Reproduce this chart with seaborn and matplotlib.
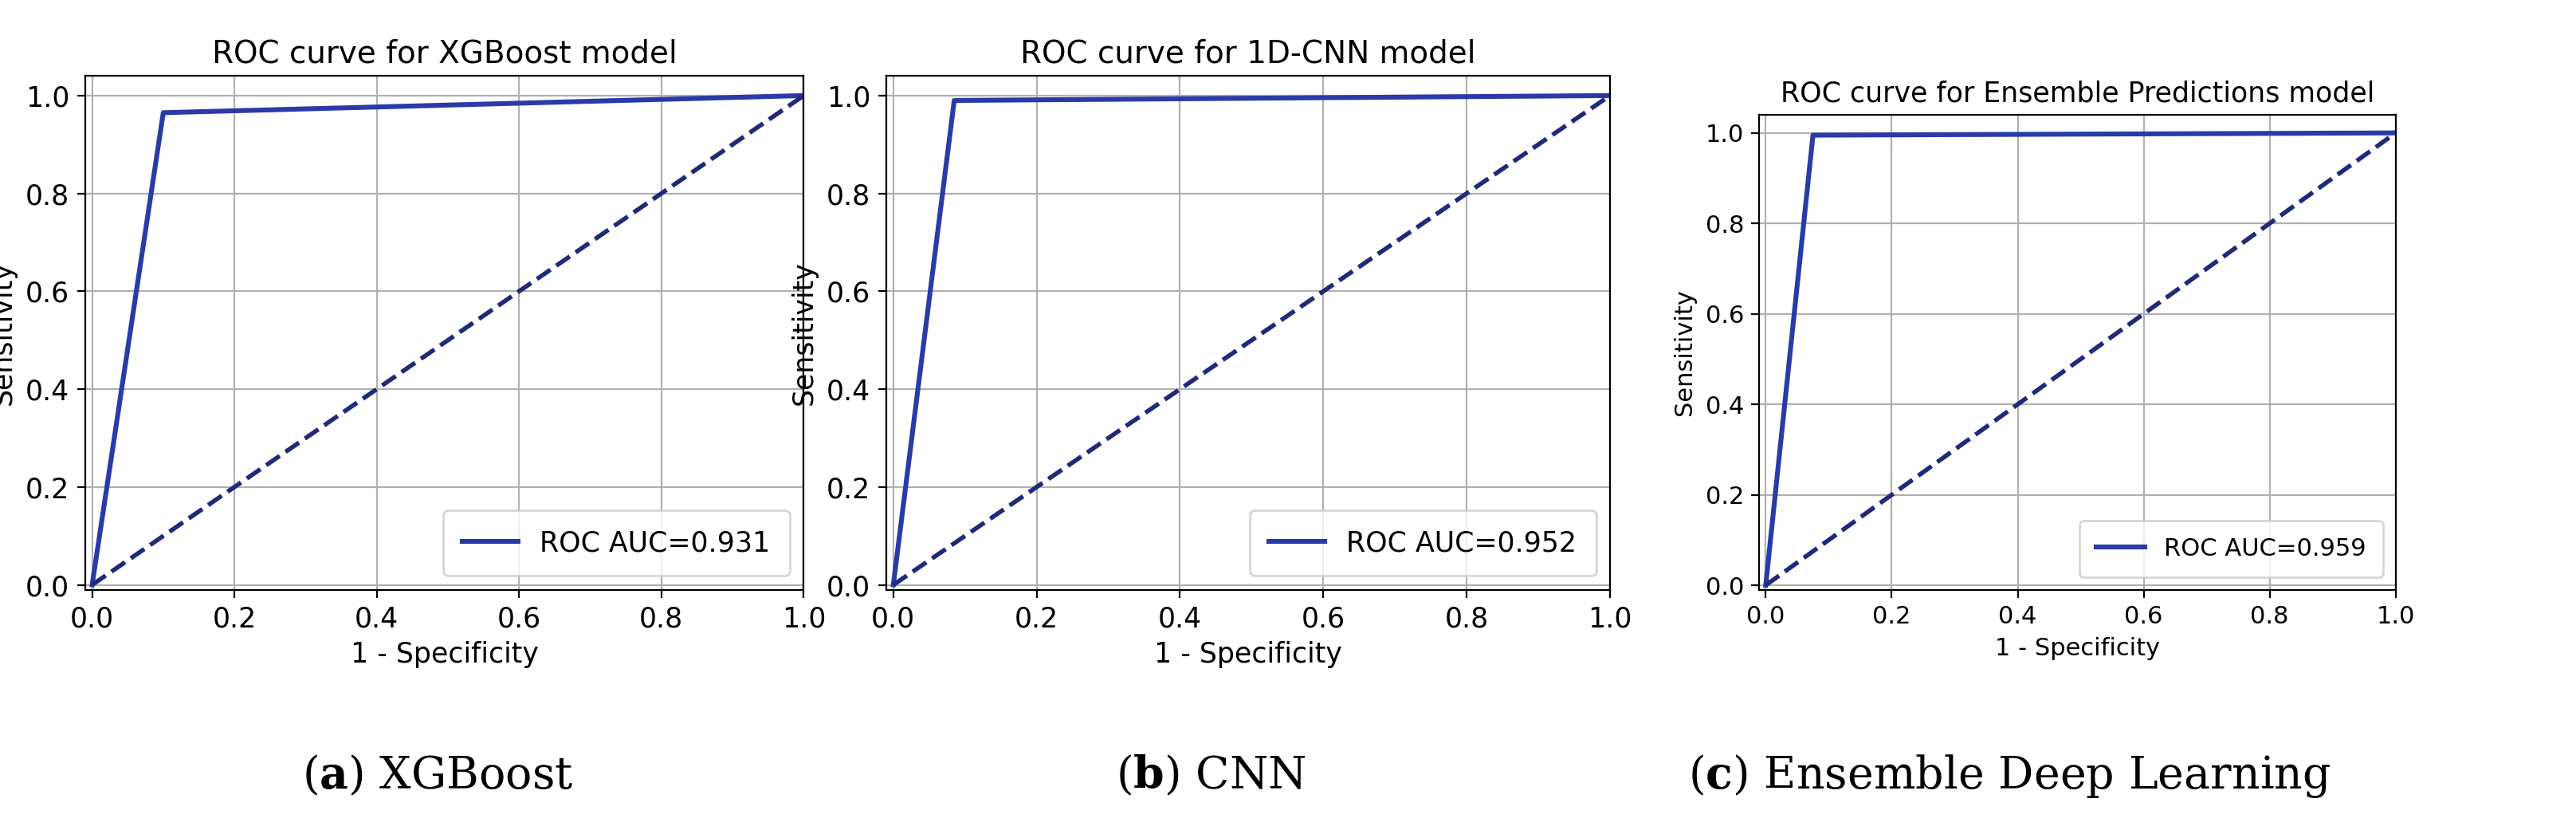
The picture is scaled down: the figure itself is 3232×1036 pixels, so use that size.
import matplotlib
matplotlib.use("Agg")
import matplotlib.pyplot as plt
import seaborn as sns
import pandas as pd

titles = ["ROC curve for XGBoost model", "ROC curve for 1D-CNN model",
          "ROC curve for Ensemble Predictions model"]
aucs = ["0.931", "0.952", "0.959"]
fpr = [[0.0, 0.10, 1.0], [0.0, 0.085, 1.0], [0.0, 0.075, 1.0]]
tpr = [[0.0, 0.965, 1.0], [0.0, 0.99, 1.0], [0.0, 0.995, 1.0]]
captions = [r"($\mathbf{a}$) XGBoost", r"($\mathbf{b}$) CNN", r"($\mathbf{c}$) Ensemble Deep Learning"]
ticks = [0.0, 0.2, 0.4, 0.6, 0.8, 1.0]

plt.rcParams["mathtext.fontset"] = "dejavuserif"
fig = plt.figure(figsize=(16.16, 5.18), dpi=200)
boxes = [[0.033, 0.286, 0.279, 0.622], [0.344, 0.286, 0.281, 0.622], [0.683, 0.286, 0.247, 0.575]]
cap_x = [0.17, 0.47, 0.78]
for i in range(3):
    ax = fig.add_axes(boxes[i])
    df = pd.DataFrame({"fpr": fpr[i], "tpr": tpr[i]})
    sns.lineplot(data=df, x="fpr", y="tpr", ax=ax, color="#2a3aa8", lw=2.2,
                 label=f"ROC AUC={aucs[i]}", estimator=None, sort=False)
    ax.plot([0, 1], [0, 1], ls="--", color="#1f2a78", lw=2)
    ax.set_xlim(-0.01, 1.0); ax.set_ylim(-0.01, 1.04)
    ax.set_xticks(ticks); ax.set_yticks(ticks)
    ax.grid(True, color="#b0b0b0", lw=0.8)
    fs = 14 if i < 2 else 12.5
    ax.set_title(titles[i], fontsize=fs)
    ax.set_xlabel("1 - Specificity", fontsize=fs - 1.5)
    ax.set_ylabel("Sensitivity", fontsize=fs - 1.5)
    ax.tick_params(labelsize=fs - 1.5)
    ax.legend(loc="lower right", fontsize=fs - 1.5, borderpad=0.7)
    fig.text(cap_x[i], 0.045, captions[i], ha="center", fontsize=20, family="DejaVu Serif")
fig.savefig("out.png", dpi=200)
